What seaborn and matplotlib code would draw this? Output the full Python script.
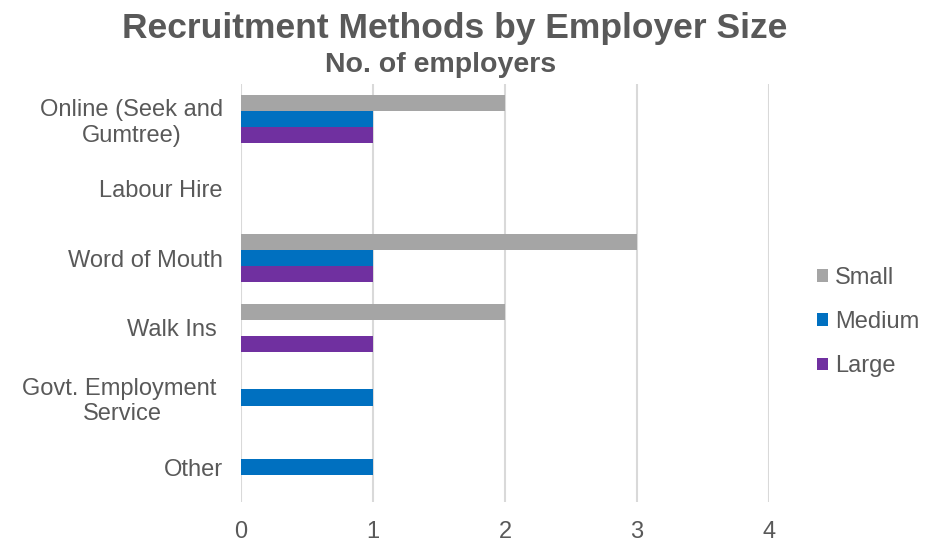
import matplotlib
matplotlib.use("Agg")
import matplotlib.pyplot as plt
import seaborn as sns
import pandas as pd

methods = [
    "Online (Seek and\nGumtree)",
    "Labour Hire",
    "Word of Mouth",
    "Walk Ins ",
    "Govt. Employment \nService",
    "Other",
]
sizes = ["Small", "Medium", "Large"]
small = [2, 0, 3, 2, 0, 0]
medium = [1, 0, 1, 0, 1, 1]
large = [1, 0, 1, 1, 0, 0]
colors = ["#A5A5A5", "#0070C0", "#7030A0"]

rows = []
for size, vals in zip(sizes, [small, medium, large]):
    for m, v in zip(methods, vals):
        rows.append({"Method": m, "Size": size, "Employers": v})
df = pd.DataFrame(rows)

sns.set_theme(style="white")
plt.rcParams["font.family"] = ["Liberation Sans", "DejaVu Sans"]
text_color = "#595959"

fig = plt.figure(figsize=(9.32, 5.42), dpi=100)
ax = fig.add_axes([241 / 932, 1 - 502 / 542, (769 - 241) / 932, (502 - 84) / 542])

sns.barplot(
    data=df, x="Employers", y="Method", hue="Size",
    order=methods, hue_order=sizes, palette=colors,
    orient="h", width=0.69, saturation=1, ax=ax, errorbar=None,
)
for p in ax.patches:
    p.set_edgecolor("none")

ax.set_xlim(0, 4)
ax.set_ylim(5.5, -0.5)
ax.set_xticks(range(5))
ax.grid(axis="x", color="#D9D9D9", linewidth=1.5)
ax.set_axisbelow(True)
for s in ax.spines.values():
    s.set_visible(False)
ax.set_xlabel("")
ax.set_ylabel("")
ax.tick_params(axis="both", length=0, labelsize=17, colors=text_color)
ax.tick_params(axis="x", pad=14)
ax.tick_params(axis="y", pad=13)
for lbl in ax.get_yticklabels():
    lbl.set_multialignment("center")

handles, labels = ax.get_legend_handles_labels()
ax.legend(
    handles, labels, loc="center left", bbox_to_anchor=(796 / 932, 1 - 322 / 542),
    bbox_transform=fig.transFigure, frameon=False, fontsize=17,
    labelcolor=text_color, handlelength=0.45, handleheight=0.45,
    handletextpad=0.3, labelspacing=0.95,
)

fig.text(455 / 932, 1 - 38 / 542, "Recruitment Methods by Employer Size",
         ha="center", va="baseline", fontsize=25.5, fontweight="bold", color=text_color)
fig.text(441 / 932, 1 - 72 / 542, "No. of employers",
         ha="center", va="baseline", fontsize=20.5, fontweight="bold", color=text_color)

fig.savefig("out.png", dpi=100)
